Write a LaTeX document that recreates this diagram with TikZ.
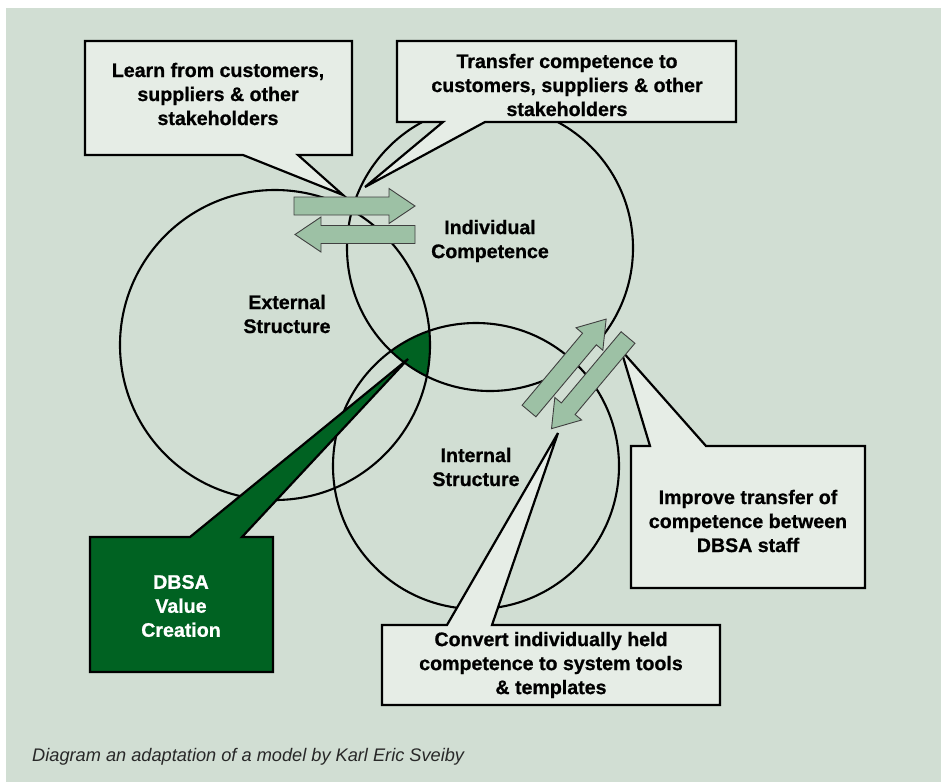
\documentclass[tikz,border=0pt]{standalone}
\usepackage{fontspec}
\setmainfont{Liberation Sans}[BoldFeatures={FakeBold=0.8}]
\usetikzlibrary{calc}
\definecolor{bg}{RGB}{209,222,211}
\definecolor{calloutfill}{RGB}{230,237,230}
\definecolor{arrowfill}{RGB}{157,193,165}
\definecolor{dkgreen}{RGB}{0,98,34}
\definecolor{captext}{RGB}{40,40,40}

\tikzset{
  ring/.style={draw=black, line width=2.1pt},
  callout/.style={draw=black, line width=2.2pt, fill=calloutfill, line join=miter},
  darkcallout/.style={draw=black, line width=2.2pt, fill=dkgreen, line join=miter},
  blockarr/.style={draw=black!75, line width=0.9pt, fill=arrowfill, line join=miter},
  lbl/.style={align=center, font=\bfseries\fontsize{19.6}{24}\selectfont, inner sep=0pt},
}

% block arrow: tail centre x, tail centre y, direction angle, length
\newcommand{\blockarrow}[4]{%
  \draw[blockarr, shift={(#1,#2)}, rotate=#3]
    (0,-9) -- ({#4-26},-9) -- ({#4-26},-17.5) -- (#4,0)
    -- ({#4-26},17.5) -- ({#4-26},9) -- (0,9) -- cycle;}

\begin{document}
\begin{tikzpicture}[x=1pt,y=-1pt]
\useasboundingbox (0,0) rectangle (941,782);
\fill[white] (0,0) rectangle (941,782);
\fill[bg] (6,8) rectangle (941,782);

% circle centres
\coordinate (ext) at (275,345);
\coordinate (ind) at (490,248);
\coordinate (int) at (476,466);

% common core of the three circles
\begin{scope}
  \clip (ext) circle[radius=155];
  \clip (ind) circle[radius=143];
  \fill[dkgreen] (int) circle[radius=143];
\end{scope}

\draw[ring] (ext) circle[radius=155];
\draw[ring] (ind) circle[radius=143];
\draw[ring] (int) circle[radius=143];

% circle labels
\node[lbl] (lind) at (490,241) {Individual\\Competence};
\node[lbl] (lext) at (287,314) {External\\Structure};
\node[lbl] (lint) at (476,467) {Internal\\Structure};

% callouts
\draw[callout] (85,41) -- (352,41) -- (352,155) -- (298,155) -- (343,195)
  -- (243,155) -- (85,155) -- cycle;
\node[lbl] (learn) at (218,94) {Learn from customers,\\suppliers \& other\\stakeholders};

\draw[callout] (397,41) -- (736,41) -- (736,122) -- (485,122) -- (365,187)
  -- (443,122) -- (397,122) -- cycle;
\node[lbl] (transfer) at (567,85) {Transfer competence to\\customers, suppliers \& other\\stakeholders};

\draw[callout] (631,446) -- (650,446) -- (621,350) -- (706,446) -- (865,446)
  -- (865,588) -- (631,588) -- cycle;
\node[lbl] (improve) at (748,521) {Improve transfer of\\competence between\\DBSA staff};

\draw[callout] (382,625) -- (447,625) -- (558,433) -- (492,625) -- (720,625)
  -- (720,705) -- (382,705) -- cycle;
\node[lbl] (convert) at (551,665) {Convert individually held\\competence to system tools\\\& templates};

\draw[darkcallout] (90,537) -- (190,537) -- (408,359) -- (242,537) -- (273,537)
  -- (273,672) -- (90,672) -- cycle;
\node[lbl, text=white] (value) at (181,606) {DBSA\\Value\\Creation};

% exchange arrows
\blockarrow{294}{206}{0}{121}
\blockarrow{415}{234.5}{180}{120}
\blockarrow{529}{411}{50}{120}
\blockarrow{628}{337.5}{230}{119}

\node[anchor=west, inner sep=0pt, text=captext, font=\itshape\fontsize{18.2}{22}\selectfont]
  (caption) at (32,757) {Diagram an adaptation of a model by Karl Eric Sveiby};
\end{tikzpicture}
\end{document}
